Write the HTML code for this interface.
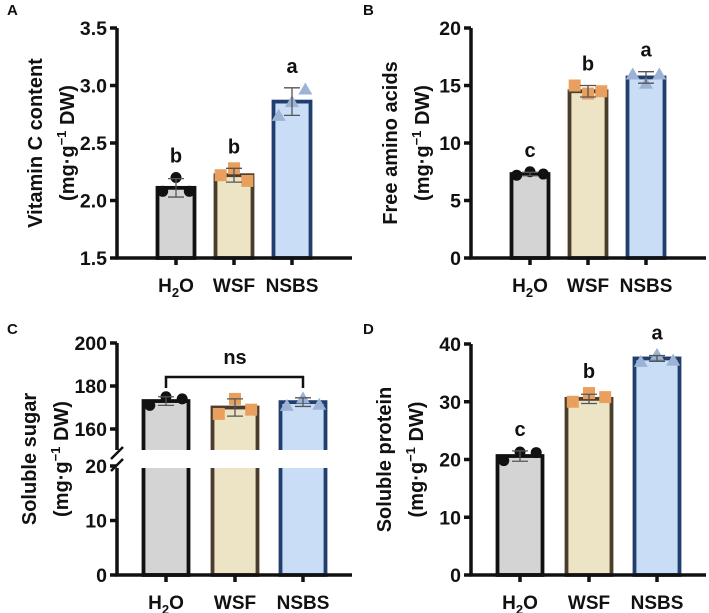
<!DOCTYPE html>
<html><head><meta charset="utf-8"><style>
body{margin:0;background:#fff}
svg{display:block;font-family:"Liberation Sans",Arial,sans-serif;font-weight:bold}
</style></head><body>
<svg id="fig" width="709" height="613" viewBox="0 0 709 613" xmlns="http://www.w3.org/2000/svg"></svg>
<script>
const categories = ["H2O","WSF","NSBS"];
// Panel A: Vitamin C
const vitCMeans = [2.11, 2.22, 2.86];
const vitCErr = [0.08, 0.06, 0.12];
const vitCPoints = [[2.08, 2.20, 2.08],[2.22, 2.28, 2.17],[2.74, 2.86, 2.97]];
const vitCLetters = ["b","b","a"];
const vitCTicks = [1.5, 2.0, 2.5, 3.0, 3.5];
// Panel B: Free amino acids
const aminoMeans = [7.3, 14.5, 15.7];
const aminoErr = [0.15, 0.5, 0.5];
const aminoPoints = [[7.2, 7.5, 7.3],[15.0, 14.3, 14.5],[16.0, 15.2, 16.0]];
const aminoLetters = ["c","b","a"];
const aminoTicks = [0, 5, 10, 15, 20];
// Panel C: Soluble sugar
const sugarMeans = [173, 170, 172.5];
const sugarErr = [2, 4, 2];
const sugarPoints = [[171, 175, 174],[167, 174, 169],[171, 174.5, 171.5]];
const sugarTicksUpper = [160, 180, 200];
const sugarTicksLower = [0, 10, 20];
// Panel D: Soluble protein
const proteinMeans = [20.6, 30.5, 37.5];
const proteinErr = [0.9, 0.8, 0.5];
const proteinPoints = [[19.8, 21.3, 21.2],[30.0, 31.5, 30.8],[37.0, 38.2, 37.2]];
const proteinLetters = ["c","b","a"];
const proteinTicks = [0, 10, 20, 30, 40];

const NS="http://www.w3.org/2000/svg";
const svg=document.getElementById('fig');
const fills=["#d4d4d4","#ede4c6","#c9ddf6"];
const strokes=["#111","#4a3d2c","#213f6e"];
const mcol=["#111","#e9a05e","#9db3d6"];
function el(tag,attrs,parent){const e=document.createElementNS(NS,tag);for(const k in attrs)e.setAttribute(k,attrs[k]);(parent||svg).appendChild(e);return e;}
function txt(x,y,s,size,anchor,parent){const t=el('text',{x:x,y:y,'font-size':size,'text-anchor':anchor||'middle',fill:'#111'},parent);t.textContent=s;return t;}
function marker(g,i,cx,cy){
  let m;
  if(i===0){m=el('circle',{cx:cx,cy:cy,r:5.5,fill:mcol[0]},g);}
  else if(i===1){m=el('rect',{x:cx-6,y:cy-6,width:12,height:12,fill:mcol[1]},g);}
  else{m=el('polygon',{points:`${cx},${cy-6.5} ${cx+7},${cy+5.5} ${cx-7},${cy+5.5}`,fill:mcol[2]},g);}
  
  
}
function xLabel(g,cx,y,i){
  const t=el('text',{x:cx,y:y,'font-size':19,'text-anchor':'middle',fill:'#111'},g);
  
  
  if(i===0){t.textContent='H';const s=el('tspan',{'font-size':13,dy:5},t);s.textContent='2';const o=el('tspan',{dy:-5},t);o.textContent='O';}
  else t.textContent=categories[i];
}
function yTitle(g,x,cy,line1){
  const t1=txt(0,0,line1,20,'middle',g);t1.setAttribute('transform',`translate(${x},${cy}) rotate(-90)`);
  
  
  const t2=el('text',{'font-size':20,'text-anchor':'middle',fill:'#111',transform:`translate(${x+32},${cy}) rotate(-90)`},g);
  
  
  t2.appendChild(document.createTextNode('(mg·g'));
  const s=el('tspan',{'font-size':13,dy:-8},t2);s.textContent='−1';
  const s2=el('tspan',{dy:8},t2);s2.textContent=' DW)';
}
function panel(o){
  const g=el('g',{});
  
  
  const y=o.y;
  const lt=txt(o.letterX,o.letterY,o.letter,15,'start',g);
  
  
  o.means.forEach((m,i)=>{
    const cx=o.cx[i];
    const b=el('rect',{x:cx-o.bw/2,y:y(m),width:o.bw,height:o.y0-y(m),fill:fills[i],stroke:strokes[i],'stroke-width':3.8},g);
    
    
  });
  if(o.gap){el('rect',{x:o.ax+3,y:o.gap[0],width:o.axEnd-o.ax,height:o.gap[1]-o.gap[0],fill:'#fff'},g);}
  o.means.forEach((m,i)=>{
    const cx=o.cx[i];
    o.points[i].forEach((p,j)=>marker(g,i,cx+(j-1)*o.bw*0.36,y(p)));
    const e=el('path',{d:`M${cx},${y(m-o.err[i])}V${y(m+o.err[i])}M${cx-8},${y(m+o.err[i])}H${cx+8}M${cx-8},${y(m-o.err[i])}H${cx+8}`,stroke:'#555','stroke-width':1.3,fill:'none'},g);
    
    
    if(o.letters){const l=txt(cx,y(Math.max(m+o.err[i],...o.points[i]))-15,o.letters[i],20,'middle',g);
      
      }
  });
  const top=o.axTop;
  if(o.gap){
    el('path',{d:`M${o.ax},${top}V${o.gap[0]}M${o.ax},${o.gap[1]}V${o.y0+1.5}`,stroke:'#111','stroke-width':3.5,fill:'none'},g);
    el('path',{d:`M${o.ax-6},${o.gap[0]+9}L${o.ax+6},${o.gap[0]-3}M${o.ax-6},${o.gap[1]+3}L${o.ax+6},${o.gap[1]-9}`,stroke:'#111','stroke-width':2.5},g);
  } else el('line',{x1:o.ax,y1:top,x2:o.ax,y2:o.y0+1.5,stroke:'#111','stroke-width':3.5},g);
  const xa=el('line',{x1:o.ax-1.5,y1:o.y0,x2:o.axEnd,y2:o.y0,stroke:'#111','stroke-width':3.5},g);
  
  
  o.ticks.forEach(t=>{
    const ty=o.yt(t);
    el('line',{x1:o.ax-7,y1:ty,x2:o.ax,y2:ty,stroke:'#111','stroke-width':3.5},g);
    const tl=txt(o.ax-10,ty+7,String(o.fmt?t.toFixed(1):t),19.5,'end',g);
    
    
  });
  o.cx.forEach((cx,i)=>{
    el('line',{x1:cx,y1:o.y0,x2:cx,y2:o.y0+7,stroke:'#111','stroke-width':3.5},g);
    xLabel(g,cx,o.y0+34,i);
  });
  yTitle(g,o.titleX,(top+o.y0)/2,o.title);
  return g;
}
function lin(d0,d1,p0,p1){return v=>p0+(v-d0)*(p1-p0)/(d1-d0);}
const yA=lin(1.5,3.5,258,28);
panel({name:'panel-a-vitamin-c',letter:'A',letterX:7,letterY:15,y:yA,yt:yA,y0:258,axTop:28,ax:117,axEnd:352,cx:[176,234,292],bw:37,
  means:vitCMeans,err:vitCErr,points:vitCPoints,letters:vitCLetters,ticks:vitCTicks,fmt:true,title:'Vitamin C content',titleX:42});
const yB=lin(0,20,258,28);
panel({name:'panel-b-free-amino-acids',letter:'B',letterX:363,letterY:15,y:yB,yt:yB,y0:258,axTop:28,ax:471,axEnd:706,cx:[530,588,646],bw:37,
  means:aminoMeans,err:aminoErr,points:aminoPoints,letters:aminoLetters,ticks:aminoTicks,title:'Free amino acids',titleX:397});
const yCu=lin(160,200,429,343), yCl=lin(0,20,575,466);
const yC=v=>v>=100?yCu(v):yCl(v);
const gC=panel({name:'panel-c-soluble-sugar',letter:'C',letterX:7,letterY:334,y:yC,yt:yC,y0:575,axTop:343,ax:117,axEnd:352,cx:[166,235,303],bw:45,gap:[450,468],
  means:sugarMeans,err:sugarErr,points:sugarPoints,ticks:sugarTicksUpper.concat(sugarTicksLower),title:'Soluble sugar',titleX:36});
const br=el('path',{d:'M166,388V377H303V388',stroke:'#111','stroke-width':2.5,fill:'none'},gC);


const nsT=txt(235,364,'ns',20,'middle',gC);


const yD=lin(0,40,575,344);
panel({name:'panel-d-soluble-protein',letter:'D',letterX:363,letterY:334,y:yD,yt:yD,y0:575,axTop:344,ax:471,axEnd:706,cx:[520,589,657],bw:45,
  means:proteinMeans,err:proteinErr,points:proteinPoints,letters:proteinLetters,ticks:proteinTicks,title:'Soluble protein',titleX:391});
</script>
</body></html>
